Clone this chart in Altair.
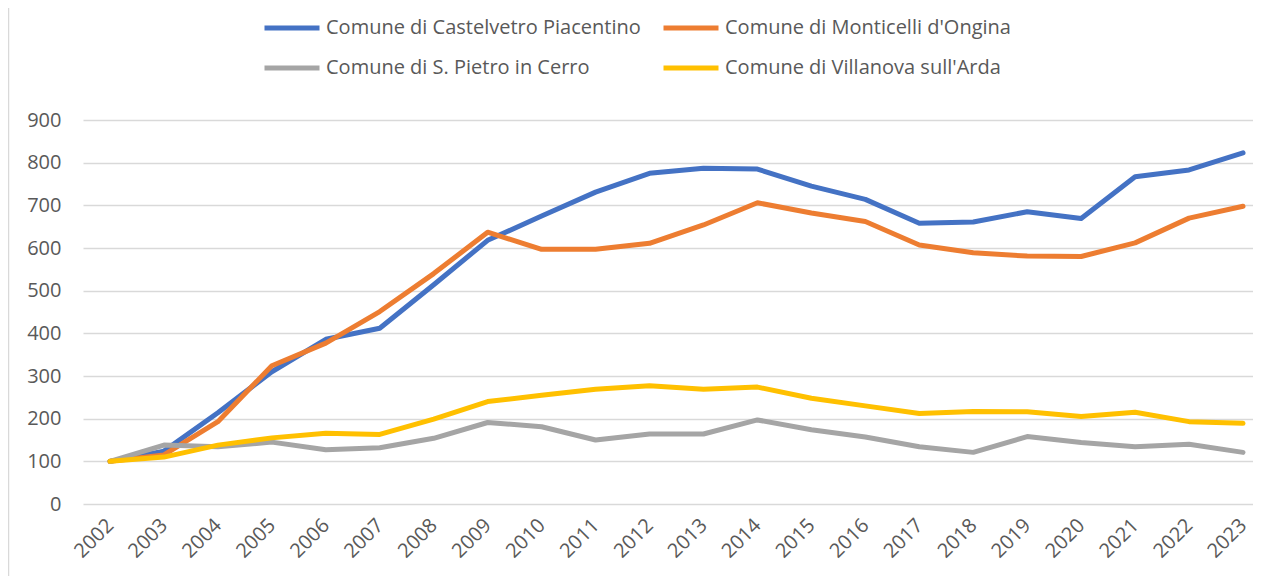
import altair as alt
import pandas as pd

years = list(range(2002, 2024))

castelvetro = [100, 124, 214, 310, 386, 412, 514, 618, 675, 731, 775, 787, 785, 745, 714, 658, 661, 685, 669, 767, 783, 823]
monticelli = [100, 115, 193, 324, 377, 451, 540, 637, 597, 597, 611, 654, 706, 682, 662, 607, 589, 581, 580, 612, 670, 698]
san_pietro = [100, 138, 134, 145, 127, 132, 154, 191, 181, 150, 164, 164, 197, 174, 157, 134, 121, 158, 144, 134, 140, 121]
villanova = [100, 110, 138, 155, 166, 163, 199, 240, 255, 269, 277, 269, 274, 248, 230, 212, 217, 216, 205, 215, 193, 189]

series_names = [
    "Comune di Castelvetro Piacentino",
    "Comune di Monticelli d'Ongina",
    "Comune di S. Pietro in Cerro",
    "Comune di Villanova sull'Arda",
]
series_values = [castelvetro, monticelli, san_pietro, villanova]
colors = ["#4472C4", "#ED7D31", "#A5A5A5", "#FFC000"]
y_ticks = [0, 100, 200, 300, 400, 500, 600, 700, 800, 900]

rows = []
for name, vals in zip(series_names, series_values):
    for yr, v in zip(years, vals):
        rows.append({"Anno": yr, "Comune": name, "Valore": v})
df = pd.DataFrame(rows)

FONT = "Open Sans"
TXT = "#595959"

lines = alt.Chart(df).mark_line(strokeWidth=5, strokeCap="round", strokeJoin="round").encode(
    x=alt.X(
        "Anno:Q",
        scale=alt.Scale(domain=[2001.5, 2023.185], nice=False, zero=False),
        axis=alt.Axis(
            values=years, format="d", labelAngle=-45, labelAlign="right",
            labelBaseline="middle", labelPadding=18, domain=False, ticks=False,
            grid=False, title=None, labelOverlap=False,
        ),
    ),
    y=alt.Y(
        "Valore:Q",
        scale=alt.Scale(domain=[0, 900], nice=False),
        axis=alt.Axis(
            values=y_ticks, domain=False, ticks=False, labelPadding=22,
            gridColor="#d9d9d9", gridWidth=1.5, title=None,
        ),
    ),
    color=alt.Color(
        "Comune:N",
        scale=alt.Scale(domain=series_names, range=colors),
        legend=alt.Legend(
            orient="none", legendX=179, legendY=-122, direction="horizontal",
            columns=2, title=None, symbolType="stroke", symbolSize=3025,
            symbolStrokeWidth=5, labelFontSize=20, labelFont=FONT,
            labelColor=TXT, labelOffset=4, columnPadding=12, rowPadding=-7,
            labelLimit=600,
        ),
    ),
)

border = alt.Chart(pd.DataFrame({"a": [0]})).mark_rule(
    color="#d9d9d9", strokeWidth=1.5
).encode(x=alt.value(-74.5), y=alt.value(-112), y2=alt.value(456))

chart = alt.layer(border, lines).properties(
    width=1170,
    height=384,
    autosize=alt.AutoSizeParams(type="none"),
    padding={"left": 75, "top": 112, "right": 0, "bottom": 72},
).configure_view(stroke=None).configure_axis(
    labelFont=FONT, labelFontSize=20, labelColor=TXT
)

chart.save("out.html", embed_options={"renderer": "svg", "actions": False})
